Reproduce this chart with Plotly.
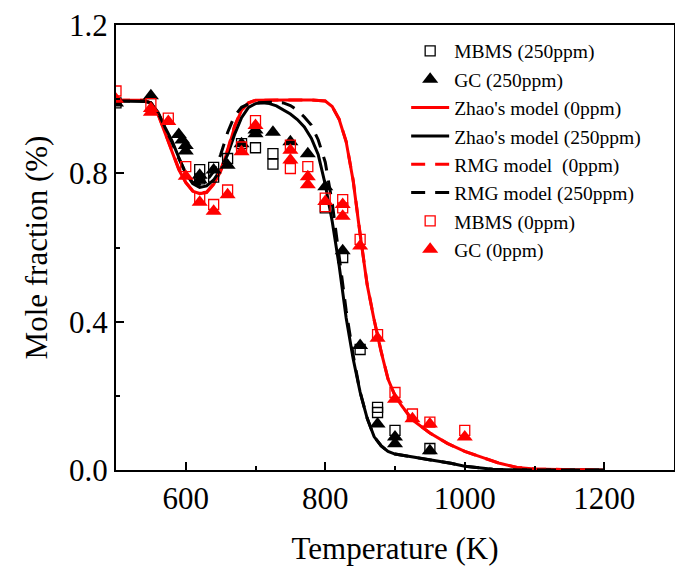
import plotly.graph_objects as go

# ---- model curves ----
T_zhao250 = [500, 520, 540, 550, 560, 570, 580, 590, 600, 610, 620, 630, 640, 650, 660, 670, 680, 690, 700, 710,
             720, 730, 740, 750, 760, 770, 780, 790, 800, 810, 820, 830, 840, 850, 860, 870, 880, 890, 900, 920,
             940, 960, 980, 1000, 1020, 1040, 1060, 1080, 1100, 1150, 1200]
Y_zhao250 = [0.995, 0.995, 0.994, 0.99, 0.965, 0.925, 0.889, 0.843, 0.80, 0.772, 0.762, 0.766, 0.782, 0.81, 0.85,
             0.905, 0.95, 0.978, 0.988, 0.99, 0.988, 0.982, 0.972, 0.96, 0.945, 0.925, 0.895, 0.85, 0.77, 0.67,
             0.55, 0.41, 0.30, 0.21, 0.14, 0.09, 0.065, 0.05, 0.043, 0.037, 0.032, 0.026, 0.018, 0.01, 0.005,
             0.002, 0.001, 0.0, 0.0, 0.0, 0.0]

T_zhao0 = [500, 540, 550, 560, 570, 580, 590, 600, 610, 620, 630, 640, 650, 660, 670, 680, 690, 700, 720, 750,
           780, 800, 810, 820, 830, 840, 850, 860, 870, 880, 890, 900, 910, 925, 950, 975, 1000, 1025, 1050, 1075,
           1100, 1150, 1200]
Y_zhao0 = [0.997, 0.997, 0.99, 0.96, 0.91, 0.862, 0.81, 0.775, 0.752, 0.745, 0.748, 0.77, 0.805, 0.86, 0.925,
           0.97, 0.99, 0.997, 0.998, 0.998, 0.998, 0.995, 0.98, 0.945, 0.885, 0.78, 0.635, 0.5, 0.405, 0.32,
           0.245, 0.2, 0.172, 0.135, 0.1, 0.072, 0.05, 0.033, 0.018, 0.007, 0.003, 0.001, 0.0]

T_rmg0 = [500, 540, 550, 560, 570, 580, 590, 600, 610, 620, 630, 640, 650, 660, 670, 680, 690, 700, 720, 750,
          780, 800, 810, 820, 830, 840, 850, 860, 870, 880, 890, 900, 910, 925, 950, 975, 1000, 1025, 1050, 1075,
          1100, 1150, 1200]
Y_rmg0 = [0.997, 0.997, 0.99, 0.962, 0.912, 0.864, 0.812, 0.776, 0.753, 0.746, 0.75, 0.772, 0.808, 0.864, 0.928,
          0.971, 0.99, 0.997, 0.998, 0.998, 0.998, 0.995, 0.98, 0.946, 0.886, 0.782, 0.637, 0.502, 0.406, 0.321,
          0.246, 0.2, 0.172, 0.135, 0.1, 0.072, 0.05, 0.033, 0.018, 0.007, 0.003, 0.001, 0.0]

T_rmg250 = [500, 540, 550, 560, 570, 580, 590, 600, 610, 620, 630, 640, 650, 660, 670, 680, 690, 700, 720, 740,
            750, 760, 770, 780, 790, 800, 810, 820, 830, 840, 850, 860, 870, 880, 890, 900, 920, 940, 960, 980,
            1000, 1020, 1040, 1060, 1080, 1100, 1150, 1200]
Y_rmg250 = [0.995, 0.995, 0.99, 0.965, 0.925, 0.885, 0.84, 0.80, 0.775, 0.77, 0.78, 0.805, 0.85, 0.91, 0.955,
            0.978, 0.987, 0.99, 0.992, 0.99, 0.983, 0.97, 0.952, 0.93, 0.89, 0.83, 0.72, 0.58, 0.43, 0.31, 0.21,
            0.14, 0.09, 0.066, 0.05, 0.043, 0.037, 0.032, 0.026, 0.018, 0.01, 0.005, 0.002, 0.001, 0.0, 0.0,
            0.0, 0.0]

# ---- experimental data ----
T_mbms250 = [500, 620, 620, 640, 640, 660, 680, 700, 725, 725, 800, 825, 850, 875, 875, 900, 950]
Y_mbms250 = [0.99, 0.81, 0.785, 0.816, 0.79, 0.84, 0.88, 0.869, 0.853, 0.825, 0.707, 0.573, 0.325, 0.169, 0.155,
             0.107, 0.058]

T_gc250 = [500, 550, 590, 595, 600, 600, 620, 620, 640, 660, 680, 700, 700, 725, 750, 775, 800, 825, 850, 875,
           900, 900, 950]
Y_gc250 = [0.99, 1.009, 0.905, 0.89, 0.875, 0.86, 0.795, 0.782, 0.809, 0.822, 0.88, 0.917, 0.907, 0.911, 0.885,
           0.853, 0.764, 0.591, 0.336, 0.124, 0.089, 0.071, 0.052]

T_mbms0 = [500, 550, 575, 600, 620, 640, 660, 680, 700, 750, 750, 775, 800, 800, 825, 825, 850, 875, 900, 925,
           950, 1000]
Y_mbms0 = [1.022, 0.988, 0.949, 0.818, 0.735, 0.716, 0.755, 0.871, 0.942, 0.876, 0.813, 0.818, 0.733, 0.71,
           0.729, 0.707, 0.622, 0.365, 0.209, 0.151, 0.129, 0.107]

T_gc0 = [500, 550, 550, 575, 600, 620, 640, 660, 680, 700, 750, 750, 775, 775, 800, 825, 825, 850, 875, 900, 925,
         950, 1000]
Y_gc0 = [1.0, 0.975, 0.965, 0.94, 0.792, 0.722, 0.698, 0.742, 0.858, 0.929, 0.862, 0.836, 0.791, 0.769, 0.724,
         0.716, 0.684, 0.604, 0.355, 0.191, 0.138, 0.124, 0.089]

RED = "#ff0000"
BLK = "#000000"
FONT = "Liberation Serif"

fig = go.Figure()

fig.add_trace(go.Scatter(x=T_zhao0, y=Y_zhao0, mode="lines", name="Zhao's model (0ppm)",
                         line=dict(color=RED, width=3), legendrank=3))
fig.add_trace(go.Scatter(x=T_zhao250, y=Y_zhao250, mode="lines", name="Zhao's model (250ppm)",
                         line=dict(color=BLK, width=3), legendrank=4))
fig.add_trace(go.Scatter(x=T_rmg0, y=Y_rmg0, mode="lines", name="RMG model\u00a0 (0ppm)",
                         line=dict(color=RED, width=3, dash="14px,10px"), legendrank=5))
fig.add_trace(go.Scatter(x=T_rmg250, y=Y_rmg250, mode="lines", name="RMG model (250ppm)",
                         line=dict(color=BLK, width=3, dash="14px,10px"), legendrank=6))
fig.add_trace(go.Scatter(x=T_mbms250, y=Y_mbms250, mode="markers", name="MBMS (250ppm)",
                         marker=dict(symbol="square-open", size=10, color=BLK, line=dict(width=1.3)),
                         legendrank=1))
fig.add_trace(go.Scatter(x=T_gc250, y=Y_gc250, mode="markers", name="GC (250ppm)",
                         marker=dict(symbol="triangle-up", size=14, color=BLK), legendrank=2))
fig.add_trace(go.Scatter(x=T_mbms0, y=Y_mbms0, mode="markers", name="MBMS (0ppm)",
                         marker=dict(symbol="square-open", size=10, color=RED, line=dict(width=1.3)),
                         legendrank=7))
fig.add_trace(go.Scatter(x=T_gc0, y=Y_gc0, mode="markers", name="GC (0ppm)",
                         marker=dict(symbol="triangle-up", size=14, color=RED), legendrank=8))

axis_common = dict(
    showline=True, linecolor=BLK, linewidth=2, mirror=True,
    ticks="inside", tickcolor=BLK, tickwidth=1.5, ticklen=8,
    showgrid=False, zeroline=False, automargin=False, ticklabeloverflow="allow",
    tickfont=dict(family=FONT, size=31, color=BLK),
)

fig.update_xaxes(
    range=[500, 1300], tickvals=[600, 800, 1000, 1200], ticktext=["600", "800", "1000", "1200"],
    minor=dict(ticks="inside", ticklen=4, tickwidth=1.5, tickcolor=BLK, dtick=100, tick0=500),
    title=dict(text="Temperature (K)", font=dict(family=FONT, size=31, color=BLK), standoff=22),
    **axis_common,
)
fig.update_yaxes(
    range=[0, 1.2], tickvals=[0.0, 0.4, 0.8, 1.2], ticktext=["0.0", "0.4", "0.8", "1.2"],
    minor=dict(ticks="inside", ticklen=4, tickwidth=1.5, tickcolor=BLK, dtick=0.2, tick0=0),
    title=dict(text="Mole fraction (%)", font=dict(family=FONT, size=31, color=BLK), standoff=12),
    **axis_common,
)

fig.update_layout(
    width=675, height=571,
    margin=dict(l=108, r=9, t=17, b=109),
    paper_bgcolor="white", plot_bgcolor="white",
    showlegend=True,
    legend=dict(
        x=0.52, y=0.985, xanchor="left", yanchor="top",
        bgcolor="rgba(0,0,0,0)", borderwidth=0,
        font=dict(family=FONT, size=19.5, color=BLK),
        tracegroupgap=0, itemwidth=38,
    ),
)

fig.write_html("out.html")
